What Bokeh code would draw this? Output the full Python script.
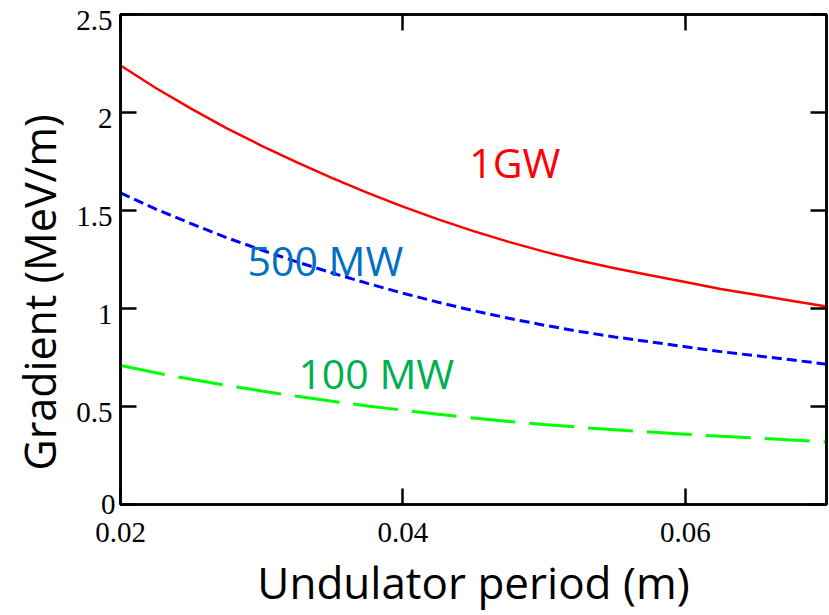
from bokeh.plotting import figure
from bokeh.models import Range1d, FixedTicker, LinearAxis, Label, Title
from bokeh.embed import file_html
from bokeh.resources import INLINE

# Data
period = [0.0200, 0.0225, 0.0250, 0.0275, 0.0300, 0.0325, 0.0350, 0.0375, 0.0400, 0.0425,
          0.0450, 0.0475, 0.0500, 0.0525, 0.0550, 0.0575, 0.0600, 0.0625, 0.0650, 0.0675, 0.0700]
grad_1gw = [2.24, 2.125, 2.02, 1.92, 1.83, 1.745, 1.665, 1.59, 1.52, 1.455,
            1.395, 1.34, 1.29, 1.245, 1.205, 1.17, 1.135, 1.10, 1.07, 1.04, 1.01]
grad_500mw = [1.59, 1.507, 1.433, 1.362, 1.298, 1.238, 1.181, 1.128, 1.078, 1.032,
              0.989, 0.950, 0.915, 0.883, 0.855, 0.830, 0.805, 0.780, 0.759, 0.738, 0.716]
grad_100mw = [0.709, 0.672, 0.639, 0.608, 0.579, 0.552, 0.527, 0.503, 0.481, 0.460,
              0.441, 0.424, 0.408, 0.394, 0.381, 0.370, 0.359, 0.348, 0.339, 0.329, 0.320]

series_names = ["1GW", "500 MW", "100 MW"]
label_pos_x = [0.0447, 0.0290, 0.0326]
label_pos_y = [1.745, 1.245, 0.67]

xticks = [0.02, 0.04, 0.06]
xtick_labels = ["0.02", "0.04", "0.06"]
yticks = [0, 0.5, 1, 1.5, 2, 2.5]
ytick_labels = ["0", "0.5", "1", "1.5", "2", "2.5"]
x_title = "Undulator period (m)"
y_title = "Gradient (MeV/m)"

p = figure(width=829, height=615, output_backend="svg", toolbar_location=None,
           x_range=Range1d(0.02, 0.07), y_range=Range1d(0, 2.5),
           min_border_left=120, min_border_right=3, min_border_top=14, min_border_bottom=111)
p.background_fill_color = "white"
p.border_fill_color = "white"
p.grid.visible = False
p.outline_line_color = "black"
p.outline_line_width = 2.5

p.line(period, grad_1gw, line_color="#FF0000", line_width=2.5)
p.line(period, grad_500mw, line_color="#0000FF", line_width=3, line_dash="10 5")
p.line(period, grad_100mw, line_color="#00FF00", line_width=3, line_dash="45 14")

def style_ticks(ax):
    ax.major_tick_in = 16
    ax.major_tick_out = 0
    ax.major_tick_line_width = 2.5
    ax.major_tick_line_color = "black"
    ax.minor_tick_line_color = None
    ax.axis_line_color = "black"
    ax.axis_line_width = 2.5

xa = p.xaxis[0]
ya = p.yaxis[0]
style_ticks(xa)
style_ticks(ya)

xa.ticker = FixedTicker(ticks=xticks)
xa.major_label_overrides = dict(zip(xticks, xtick_labels))
xa.major_label_text_font = "Liberation Serif"
xa.major_label_text_font_size = "29px"
xa.major_label_text_color = "black"
xa.major_label_standoff = 18
xa.axis_label = x_title
xa.axis_label_text_font = "Open Sans"
xa.axis_label_text_font_style = "normal"
xa.axis_label_text_color = "black"
xa.axis_label_text_font_size = "44px"
xa.axis_label_standoff = 7

# left axis: ticks, and the "0" label
ya.ticker = FixedTicker(ticks=yticks)
ya.major_label_overrides = {t: (s if t == 0 else "") for t, s in zip(yticks, ytick_labels)}
ya.major_label_standoff = 5
ya.major_label_text_font = "Liberation Serif"
ya.major_label_text_font_size = "29px"
ya.major_label_text_color = "black"

# other left tick labels, drawn a few pixels below their ticks as in the reference
p.extra_y_ranges = {"ylab": Range1d(0.0306, 2.5306)}
ylab = LinearAxis(y_range_name="ylab", ticker=FixedTicker(ticks=yticks[1:]), bounds=(0.5, 2.5))
ylab.major_label_overrides = dict(zip(yticks[1:], ytick_labels[1:]))
ylab.major_tick_line_color = None
ylab.minor_tick_line_color = None
ylab.axis_line_color = None
ylab.major_tick_in = 0
ylab.major_tick_out = 0
ylab.major_label_standoff = -15
ylab.major_label_text_font = "Liberation Serif"
ylab.major_label_text_font_size = "29px"
ylab.major_label_text_color = "black"
p.add_layout(ylab, "left")

# y title, starting a little above the frame bottom as in the reference
p.add_layout(Title(text=y_title, align="left", offset=34, standoff=10,
                   text_font="Open Sans", text_font_size="43px",
                   text_font_style="normal", text_color="black"), "left")

# mirrored ticks on top and right
top = LinearAxis(ticker=FixedTicker(ticks=xticks))
right = LinearAxis(ticker=FixedTicker(ticks=yticks))
style_ticks(top)
style_ticks(right)
top.major_label_overrides = {t: "" for t in xticks}
right.major_label_overrides = {t: "" for t in yticks}
top.major_label_standoff = 0
right.major_label_standoff = 0
p.add_layout(top, "above")
p.add_layout(right, "right")

label_colors = ["#FF0000", "#0070C0", "#00B050"]
for name, lx, ly, c in zip(series_names, label_pos_x, label_pos_y, label_colors):
    p.add_layout(Label(x=lx, y=ly, text=name, text_color=c, text_font="Open Sans",
                       text_font_size="41px", text_baseline="alphabetic", text_align="left"))

open("out.html", "w").write(file_html(p, INLINE))
